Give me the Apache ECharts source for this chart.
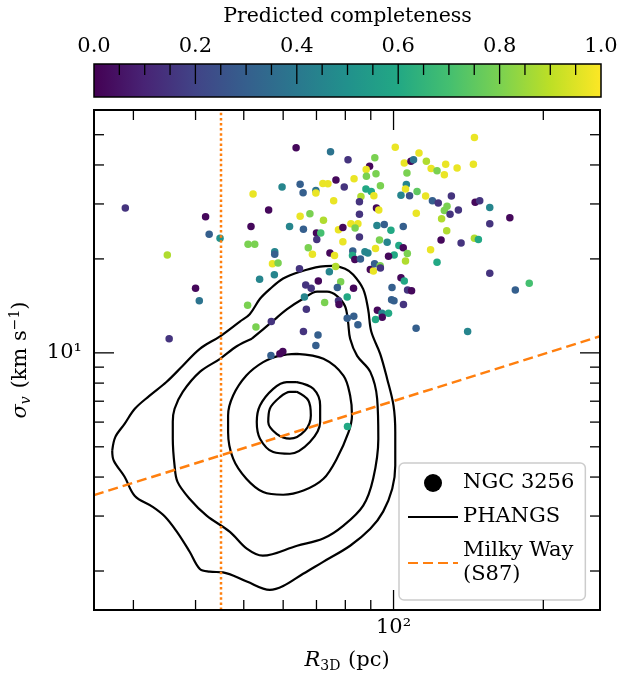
<!DOCTYPE html>
<html><head><meta charset="utf-8">
<script src="https://cdn.jsdelivr.net/npm/echarts@6/dist/echarts.min.js"></script>
<style>html,body{margin:0;padding:0;background:#fff}#c{width:634px;height:678px}</style>
</head><body><div id="c"></div>
<script>
// ---------------- data ----------------
// NGC 3256 clouds: size R_3D (pc), velocity dispersion (km/s), predicted completeness
const ngcR = [28.9,41.9,42.6,44.8,35.1,40.0,40.7,35.4,56.7,59.1,59.9,69.8,80.8,
63.7,74.7,81.0,91.7,100.8,89.5,88.1,92.2,88.2,105.1,108.4,109.7,112.5,106.4,83.3,76.6,79.6,72.1,73.8,64.9,
59.7,52.2,65.8,69.8,69.8,88.0,90.2,94.1,91.3,86.0,85.4,75.8,106.1,105.7,107.7,103.5,111.5,92.4,93.4,111.1,
56.1,64.9,67.9,72.3,85.4,51.7,61.8,65.9,70.0,71.4,70.1,77.5,79.1,82.1,84.8,83.7,85.4,79.1,92.6,95.8,
98.8,104.6,93.7,97.1,92.0,102.5,104.6,100.3,106.6,105.7,97.7,51.0,52.6,57.7,57.7,67.4,68.7,74.5,76.1,82.8,
82.7,83.6,85.8,87.6,88.8,57.1,58.6,57.6,53.8,64.7,76.5,74.3,89.8,91.1,91.6,94.0,94.1,103.5,105.1,
99.3,106.7,108.7,70.6,66.6,68.3,78.3,77.1,83.1,66.2,72.7,77.5,77.7,80.7,99.1,100.2,104.7,50.9,66.8,56.8,
52.9,65.9,70.5,80.7,83.2,84.8,92.8,94.8,97.7,94.9,92.0,111.0,
145.4,116.4,119.0,122.3,127.3,126.5,134.2,144.7,116.0,119.7,123.0,130.7,128.1,126.5,129.9,135.0,145.9,
149.0,156.1,171.3,156.1,124.9,127.9,124.6,136.7,145.4,148.1,118.7,122.3,156.1,175.7,187.4,140.9];
const ngcSigma = [29.1,27.3,24.0,23.3,20.6,16.1,14.7,11.1,9.8,9.93,10.1,10.55,5.81,
45.4,44.1,41.6,42.2,45.6,39.6,38.7,37.5,36.8,40.6,41.1,41.6,43.7,37.7,36.1,35.8,34.0,34.9,34.8,34.7,
34.0,32.3,32.6,33.1,32.5,33.5,32.9,34.3,31.9,31.7,30.5,30.7,34.6,33.5,31.9,32.0,32.9,29.1,28.7,28.0,
28.7,27.4,27.9,26.6,27.8,25.4,25.4,24.9,24.2,24.2,23.1,24.8,25.2,25.9,25.9,25.1,23.5,22.7,25.6,25.8,
24.7,25.4,23.0,22.6,21.6,22.1,21.7,20.6,20.8,19.7,20.4,22.3,22.3,21.1,20.7,21.7,20.7,20.9,20.5,21.2,
20.5,19.9,20.0,21.1,20.9,19.3,19.4,17.8,17.2,18.6,18.9,18.2,18.5,18.3,19.3,19.0,18.7,17.4,17.0,
16.2,15.9,15.8,17.0,16.5,16.1,16.9,16.2,16.1,15.1,14.5,14.7,14.3,15.1,14.8,14.7,14.3,14.2,13.8,12.6,
12.1,11.7,11.4,12.9,13.1,12.3,13.7,13.4,13.4,13.0,12.8,12.0,
49.0,41.1,39.0,38.3,40.2,37.2,39.1,40.2,31.8,30.7,30.2,31.8,29.5,28.6,27.8,28.7,30.4,
30.7,29.2,27.1,25.9,26.9,24.6,23.0,22.5,23.3,23.1,21.4,19.5,18.0,15.9,16.7,11.7];
const ngcCompleteness = [0.15,0.02,0.3,0.5,0.88,0.02,0.38,0.15,0.3,0.02,0.02,0.3,0.6,
0.02,0.38,0.15,0.8,0.97,0.02,0.97,0.8,0.8,0.97,0.02,0.38,0.97,0.8,0.97,0.02,0.15,0.97,0.97,0.3,
0.45,0.97,0.3,0.38,0.97,0.6,0.6,0.8,0.97,0.88,0.15,0.97,0.45,0.97,0.25,0.45,0.75,0.02,0.97,0.97,
0.02,0.97,0.8,0.88,0.15,0.02,0.45,0.3,0.02,0.7,0.15,0.97,0.02,0.97,0.97,0.8,0.15,0.97,0.45,0.3,
0.6,0.3,0.8,0.45,0.97,0.6,0.02,0.6,0.8,0.88,0.02,0.8,0.8,0.45,0.3,0.8,0.97,0.02,0.97,0.3,
0.6,0.02,0.3,0.45,0.45,0.97,0.8,0.45,0.45,0.15,0.88,0.45,0.02,0.97,0.3,0.8,0.15,0.02,0.6,
0.3,0.15,0.02,0.02,0.15,0.15,0.8,0.3,0.02,0.45,0.8,0.15,0.02,0.6,0.3,0.3,0.15,0.8,0.15,0.15,
0.8,0.15,0.3,0.3,0.3,0.3,0.02,0.45,0.6,0.02,0.6,0.3,
0.97,0.88,0.97,0.8,0.97,0.97,0.97,0.97,0.97,0.3,0.15,0.15,0.8,0.8,0.15,0.15,0.02,
0.15,0.45,0.02,0.15,0.88,0.88,0.02,0.15,0.88,0.6,0.97,0.6,0.15,0.3,0.7,0.45];

// PHANGS density contours, [R_3D (pc), sigma (km/s)]
const phangsLevel1 = [[27.2,4.86],[27.6,5.38],[28.8,5.92],[30.2,6.62],[32.3,7.28],[35.0,8.08],[37.7,9.09],[40.8,10.3],[44.8,11.3],[49.1,12.6],[51.4,13.3],[53.9,14.9],[56.4,16.0],[60.0,17.3],[64.9,18.2],[71.2,18.9],[75.6,19.0],[79.9,18.6],[83.0,17.8],[86.9,16.0],[88.9,13.8],[90.2,11.7],[94.0,9.93],[97.1,8.25],[100,6.77],[100.8,5.58],[100.8,4.35],[99.4,3.67],[95.3,3.10],[89.8,2.73],[81.8,2.41],[72.2,2.14],[65.8,1.96],[60.0,1.79],[56.4,1.74],[50.7,1.85],[45.4,1.98],[42.7,1.99],[40.8,2.03],[38.9,2.31],[36.7,2.67],[34.7,2.99],[32.8,3.21],[30.2,3.48],[28.8,4.01],[27.4,4.51]];
const phangsLevel2 = [[51.9,11.1],[56.4,12.4],[61.1,13.8],[65.8,14.9],[70.2,15.7],[73.5,15.7],[77.0,15.2],[79.9,14.1],[81.0,12.6],[81.8,11.1],[84.5,9.78],[89.8,8.69],[92.7,7.12],[93.2,5.31],[91.0,3.95],[86.9,3.24],[79.2,2.79],[72.2,2.54],[64.0,2.41],[54.6,2.24],[50.7,2.36],[46.9,2.67],[42.1,3.01],[38.9,3.41],[36.8,3.86],[36.3,4.35],[36.0,5.31],[36.0,6.01],[36.3,6.62],[37.7,7.50],[40.8,8.69],[44.8,9.57],[48.4,10.5]];
const phangsLevel3 = [[63.9,9.93],[72.3,9.57],[79.3,8.46],[81.8,7.30],[82.5,6.30],[81.2,5.57],[76.9,4.58],[72.3,3.95],[65.9,3.62],[60.0,3.51],[54.7,3.58],[50.6,3.95],[47.6,4.58],[46.5,5.57],[46.5,6.30],[47.6,7.30],[50.6,8.46],[54.7,9.34],[59.1,9.80]];
const phangsLevel4 = [[63.9,8.06],[69.0,7.67],[71.2,6.78],[71.2,6.00],[67.9,5.18],[61.9,4.75],[57.3,4.81],[53.9,5.31],[53.1,6.00],[53.9,6.78],[57.3,7.67],[61.0,8.06]];
const phangsLevel5 = [[63.9,7.50],[67.4,7.04],[68.2,6.30],[66.4,5.64],[61.9,5.31],[58.2,5.50],[56.0,6.00],[56.4,6.62],[59.1,7.21],[61.9,7.50]];

// Milky Way (S87) relation end points
const milkyWayR = [25, 260];
const milkyWaySigma = [3.50, 11.3];
// resolution limit (vertical dotted line)
const resolutionR = [45, 45];
const resolutionSigma = [1.5, 60];

// axes
const xRange = [25, 260];
const yRange = [1.5, 60];
const xMajorTicks = [100];
const xMajorLabels = ['10²'];
const xMinorTicks = [30, 40, 50, 60, 70, 80, 90, 200];
const yMajorTicks = [10];
const yMajorLabels = ['10¹'];
const yMinorTicks = [2, 3, 4, 5, 6, 7, 8, 9, 20, 30, 40, 50];
const colorbarRange = [0, 1];
const colorbarMajorTicks = [0.2, 0.4, 0.6, 0.8];
const colorbarMinorTicks = [0.05, 0.1, 0.15, 0.25, 0.3, 0.35, 0.45, 0.5, 0.55, 0.65, 0.7, 0.75, 0.85, 0.9, 0.95];

// ---------------- chart ----------------
const FONT = '"DejaVu Serif", "Liberation Serif", serif';
const FS = 21;
const viridis = ['#440154','#482475','#414487','#355f8d','#2a788e','#21918c','#22a884','#44bf70','#7ad151','#bddf26','#fde725'];
const C1 = '#ff7f0e';

const scatterData = ngcR.map((r, i) => [r, ngcSigma[i], ngcCompleteness[i]]);
const closeLoop = a => a.concat([a[0]]);
const contours = [phangsLevel1, phangsLevel2, phangsLevel3, phangsLevel4, phangsLevel5];

const xTickData = xMajorTicks.map((v, i) => [v, yRange[0], 1, i]).concat(xMinorTicks.map(v => [v, yRange[0], 0, -1]));
const yTickData = yMajorTicks.map((v, i) => [xRange[0], v, 1, i]).concat(yMinorTicks.map(v => [xRange[0], v, 0, -1]));
const cbTickData = colorbarMajorTicks.map(v => [v, 1, 1]).concat(colorbarMinorTicks.map(v => [v, 1, 0]));

const tickStyle = {stroke: '#000', lineWidth: 1.3};

function renderXTick(params, api) {
  const v = api.value(0), major = api.value(2), li = api.value(3);
  const p = api.coord([v, api.value(1)]);
  const cs = params.coordSys;
  const x = p[0], top = cs.y, bot = cs.y + cs.height;
  const L = major ? 20 : 10;
  const ch = [
    {type: 'line', shape: {x1: x, y1: bot, x2: x, y2: bot - L}, style: tickStyle},
    {type: 'line', shape: {x1: x, y1: top, x2: x, y2: top + L}, style: tickStyle}
  ];
  if (major) ch.push({type: 'text', style: {text: xMajorLabels[li], x: x, y: bot + 7, align: 'center', verticalAlign: 'top', fontSize: FS, fontFamily: FONT, fill: '#000'}});
  return {type: 'group', children: ch};
}
function renderYTick(params, api) {
  const v = api.value(1), major = api.value(2), li = api.value(3);
  const p = api.coord([api.value(0), v]);
  const cs = params.coordSys;
  const y = p[1], left = cs.x, right = cs.x + cs.width;
  const L = major ? 20 : 10;
  const ch = [
    {type: 'line', shape: {x1: left, y1: y, x2: left + L, y2: y}, style: tickStyle},
    {type: 'line', shape: {x1: right, y1: y, x2: right - L, y2: y}, style: tickStyle}
  ];
  if (major) ch.push({type: 'text', style: {text: yMajorLabels[li], x: left - 12, y: y, align: 'right', verticalAlign: 'middle', fontSize: FS, fontFamily: FONT, fill: '#000'}});
  return {type: 'group', children: ch};
}
function renderColorbar(params, api) {
  const p0 = api.coord([colorbarRange[0], 0]);
  const p1 = api.coord([colorbarRange[1], 1]);
  const stops = viridis.map((c, i) => ({offset: i / (viridis.length - 1), color: c}));
  return {type: 'rect', shape: {x: p0[0], y: p1[1], width: p1[0] - p0[0], height: p0[1] - p1[1]},
    style: {fill: new echarts.graphic.LinearGradient(0, 0, 1, 0, stops)}};
}
function renderColorbarTick(params, api) {
  const p = api.coord([api.value(0), api.value(1)]);
  const L = api.value(2) ? 20 : 11;
  return {type: 'line', shape: {x1: p[0], y1: p[1], x2: p[0], y2: p[1] + L}, style: tickStyle};
}

const series = [];
contours.forEach(c => series.push({
  type: 'line', name: 'PHANGS', xAxisIndex: 0, yAxisIndex: 0,
  data: closeLoop(c), symbol: 'none', smooth: 0.35,
  lineStyle: {color: '#000', width: 2.2}, itemStyle: {color: '#000'}, z: 3
}));
series.push({
  type: 'scatter', name: 'NGC 3256', xAxisIndex: 0, yAxisIndex: 0,
  data: scatterData, symbolSize: 7.5, itemStyle: {opacity: 1}, z: 4
});
series.push({
  type: 'line', name: 'Milky Way\n(S87)', xAxisIndex: 0, yAxisIndex: 0,
  data: milkyWayR.map((r, i) => [r, milkyWaySigma[i]]), symbol: 'none',
  lineStyle: {color: C1, width: 2.5, type: [10, 5]}, itemStyle: {color: C1}, z: 5
});
series.push({
  type: 'line', name: 'limit', xAxisIndex: 0, yAxisIndex: 0,
  data: resolutionR.map((r, i) => [r, resolutionSigma[i]]), symbol: 'none',
  lineStyle: {color: C1, width: 2.5, type: [2.5, 2.6]}, z: 5
});
series.push({type: 'custom', xAxisIndex: 0, yAxisIndex: 0, data: xTickData, renderItem: renderXTick, z: 6, silent: true});
series.push({type: 'custom', xAxisIndex: 0, yAxisIndex: 0, data: yTickData, renderItem: renderYTick, z: 6, silent: true});
series.push({type: 'custom', xAxisIndex: 1, yAxisIndex: 1, data: [[0, 0]], renderItem: renderColorbar, z: 1, silent: true});
series.push({type: 'custom', xAxisIndex: 1, yAxisIndex: 1, data: cbTickData, renderItem: renderColorbarTick, z: 3, silent: true});

const option = {
  animation: false,
  backgroundColor: '#fff',
  textStyle: {fontFamily: FONT},
  grid: [
    {left: 94, top: 110, width: 506, height: 502, show: true, borderColor: '#000', borderWidth: 2, backgroundColor: 'transparent', z: 8},
    {left: 94, top: 64, width: 507, height: 33, show: true, borderColor: '#000', borderWidth: 1.5, backgroundColor: 'transparent', z: 10}
  ],
  xAxis: [
    {type: 'log', logBase: 10, gridIndex: 0, min: xRange[0], max: xRange[1],
     axisLine: {show: false}, axisTick: {show: false}, axisLabel: {show: false}, splitLine: {show: false},
     name: '{it|R}{sub|3D}  {n|(pc)}', nameLocation: 'middle', nameGap: 38,
     nameTextStyle: {rich: {
       it: {fontFamily: FONT, fontSize: FS, fontStyle: 'italic', color: '#000'},
       sub: {fontFamily: FONT, fontSize: 14, color: '#000', padding: [11, 0, 0, 0]},
       n: {fontFamily: FONT, fontSize: FS, color: '#000'}}}},
    {type: 'value', gridIndex: 1, min: colorbarRange[0], max: colorbarRange[1], interval: 0.2, position: 'top', z: 12,
     axisLine: {show: false, onZero: false},
     axisTick: {show: false},
     axisLabel: {formatter: v => v.toFixed(1), fontFamily: FONT, fontSize: FS, color: '#000', margin: 7},
     splitLine: {show: false},
     name: 'Predicted completeness', nameLocation: 'middle', nameGap: 37,
     nameTextStyle: {fontFamily: FONT, fontSize: 20.5, color: '#000'}}
  ],
  yAxis: [
    {type: 'log', logBase: 10, gridIndex: 0, min: yRange[0], max: yRange[1],
     axisLine: {show: false}, axisTick: {show: false}, axisLabel: {show: false}, splitLine: {show: false},
     name: '{it|σ}{sub|v}  {n|(km s}{sup|−1}{n|)}', nameLocation: 'middle', nameGap: 60, nameRotate: 90,
     nameTextStyle: {rich: {
       it: {fontFamily: FONT, fontSize: FS, fontStyle: 'italic', color: '#000'},
       sub: {fontFamily: FONT, fontSize: 14, fontStyle: 'italic', color: '#000', padding: [11, 0, 0, 0]},
       sup: {fontFamily: FONT, fontSize: 14, color: '#000', padding: [0, 0, 12, 0]},
       n: {fontFamily: FONT, fontSize: FS, color: '#000'}}}},
    {type: 'value', gridIndex: 1, min: 0, max: 1, show: false}
  ],
  visualMap: {
    type: 'continuous', show: false, seriesIndex: 5, dimension: 2,
    min: colorbarRange[0], max: colorbarRange[1], inRange: {color: viridis}
  },
  legend: {
    orient: 'vertical', left: 399, top: 463, padding: [8, 11, 13, 8], itemGap: 10,
    itemWidth: 50, itemHeight: 18, selectedMode: false,
    backgroundColor: 'rgba(255,255,255,0.85)', borderColor: '#cccccc', borderWidth: 1.5, borderRadius: 5,
    textStyle: {fontFamily: FONT, fontSize: FS, color: '#000', lineHeight: 24},
    data: [
      {name: 'NGC 3256', icon: 'circle', itemStyle: {color: '#000'}},
      {name: 'PHANGS', itemStyle: {opacity: 0}},
      {name: 'Milky Way\n(S87)', itemStyle: {opacity: 0}}
    ]
  },
  series: series
};

const chart = echarts.init(document.getElementById('c'), null, {renderer: 'canvas'});
chart.setOption(option);
</script>
</body></html>
